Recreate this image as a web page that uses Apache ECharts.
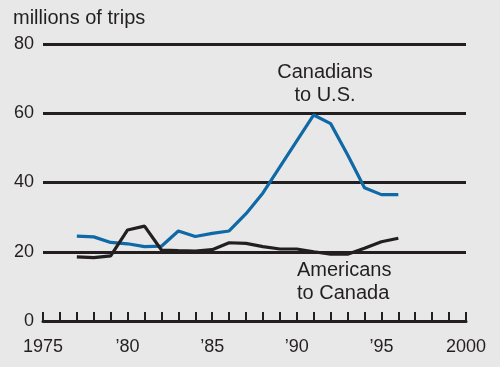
<!DOCTYPE html>
<html>
<head>
<meta charset="utf-8">
<script src="https://cdn.jsdelivr.net/npm/echarts@6/dist/echarts.min.js"></script>
<style>
html,body{margin:0;padding:0;background:#e8e8e8;}
#c{width:500px;height:367px;}
</style>
</head>
<body>
<div id="c"></div>
<script>
var years = [1977,1978,1979,1980,1981,1982,1983,1984,1985,1986,1987,1988,1989,1990,1991,1992,1993,1994,1995,1996];
var canadiansToUS = [24.5,24.3,22.7,22.3,21.5,21.6,26.0,24.4,25.3,26.0,31.0,37.0,44.5,52.0,59.5,57.0,48.0,38.5,36.5,36.5];
var americansToCanada = [18.5,18.3,18.8,26.3,27.4,20.5,20.3,20.2,20.6,22.6,22.4,21.5,20.8,20.8,20.0,19.3,19.3,21.0,22.9,23.9];
var yTicks = [0,20,40,60,80];
var xTickLabels = {1975:'1975',1980:'\u201980',1985:'\u201985',1990:'\u201990',1995:'\u201995',2000:'2000'};

var ink = '#231f20';
var font = 'Liberation Sans, Arial, sans-serif';
function pairs(xs, ys){ return xs.map(function(x,i){ return [x, ys[i]]; }); }

var chart = echarts.init(document.getElementById('c'), null, {renderer:'canvas'});
chart.setOption({
  backgroundColor:'#e8e8e8',
  animation:false,
  grid:{left:43, right:34, top:44, bottom:46},
  xAxis:{
    type:'value', min:1975, max:2000, interval:1,
    axisLine:{show:true, onZero:false, lineStyle:{color:ink, width:3}},
    axisTick:{show:true, inside:true, length:9, interval:0, lineStyle:{color:ink, width:2}},
    splitLine:{show:false},
    axisLabel:{color:ink, fontSize:18, fontFamily:font, margin:17, showMinLabel:true, showMaxLabel:true, interval:0,
      formatter:function(v){ return xTickLabels[v] || ''; }}
  },
  yAxis:{
    type:'value', min:0, max:80, interval:20,
    axisLine:{show:false}, axisTick:{show:false},
    splitLine:{show:true, lineStyle:{color:ink, width:3}},
    axisLabel:{color:ink, fontSize:18, fontFamily:font, margin:9,
      formatter:function(v){ return yTicks.indexOf(v)>=0 ? String(v) : ''; }}
  },
  series:[
    {type:'line', data:pairs(years, canadiansToUS), showSymbol:false, symbol:'none',
      lineStyle:{color:'#0f69a6', width:3.2}, z:3},
    {type:'line', data:pairs(years, americansToCanada), showSymbol:false, symbol:'none',
      lineStyle:{color:ink, width:3.2}, z:4}
  ],
  graphic:[
    {type:'text', left:13, top:8, style:{text:'millions of trips', fill:ink, font:'20px '+font}},
    {type:'text', x:325, y:61, style:{text:'Canadians\nto U.S.', fill:ink, font:'20px '+font, textAlign:'center', lineHeight:23}},
    {type:'text', x:297, y:259, style:{text:'Americans\nto Canada', fill:ink, font:'20px '+font, textAlign:'left', lineHeight:23}}
  ]
});
</script>
</body>
</html>
